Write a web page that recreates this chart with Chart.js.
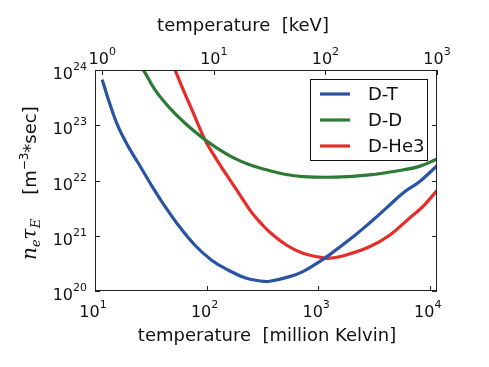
<!DOCTYPE html>
<html>
<head>
<meta charset="utf-8">
<script src="https://cdn.jsdelivr.net/npm/chart.js@4"></script>
<style>
  body { margin: 0; background: #fff; }
  #wrap { width: 489px; height: 367px; }
</style>
</head>
<body>
<div id="wrap"><canvas id="chart" width="489" height="367"></canvas></div>
<script>
// temperature in million Kelvin, n_e*tau_E in m^-3 s
const MK_PER_KEV = 11.604;

const dtTemp = [11.6, 13.2, 16.1, 19.9, 24.4, 33.2, 39.5, 55.6, 78.3, 111, 156, 220, 310, 367, 555, 729, 1028, 1259, 2042, 2884, 4074, 5728, 8072, 11604];
const dtVals = [6.7e23, 2.9e23, 9.5e22, 4.1e22, 2.07e22, 7.3e21, 4.2e21, 1.57e21, 6.8e20, 3.6e20, 2.4e20, 1.74e20, 1.51e20, 1.5e20, 1.82e20, 2.24e20, 3.4e20, 4.5e20, 9.5e20, 1.7e21, 3.16e21, 5.9e21, 9.5e21, 1.85e22];

const ddTemp = [25.1, 27.0, 34.4, 45.3, 63.8, 96.4, 123, 173, 243, 344, 500, 729, 1445, 2884, 5728, 8072, 11604];
const ddVals = [1.2e24, 1.02e24, 4.4e23, 2.2e23, 1.1e23, 5.5e22, 3.9e22, 2.6e22, 1.93e22, 1.56e22, 1.3e22, 1.18e22, 1.15e22, 1.26e22, 1.55e22, 1.8e22, 2.45e22];

const dheTemp = [50.1, 52, 61.7, 78.3, 96.4, 120, 151, 200, 251, 309, 367, 519, 729, 1028, 1222, 1660, 2884, 4365, 6607, 8072, 9268, 11604];
const dheVals = [1.2e24, 1.02e24, 4.4e23, 1.45e23, 5.5e22, 2.6e22, 1.26e22, 5.4e21, 2.7e21, 1.66e21, 1.17e21, 6.8e20, 4.8e20, 4.1e20, 3.9e20, 4.3e20, 6.3e20, 1.02e21, 2.1e21, 2.95e21, 3.9e21, 6.6e21];

const seriesNames = ['D-T', 'D-D', 'D-He3'];
const seriesColors = ['#2b53a3', '#2e7b35', '#e62d2a'];

const bottomTicks = [1e1, 1e2, 1e3, 1e4];
const topTicks = [1e0, 1e1, 1e2, 1e3];
const leftTicks = [1e20, 1e21, 1e22, 1e23, 1e24];

function pts(xs, ys) {
    return xs.map((x, i) => ({ x: x, y: ys[i] }));
}

// "10" with a raised exponent, centered on (cx, cy)
function powerLabel(ctx, exp, cx, cy, alignRight) {
    ctx.font = '16px "DejaVu Sans"';
    const wBase = ctx.measureText('10').width;
    ctx.font = '11px "DejaVu Sans"';
    const wExp = ctx.measureText(String(exp)).width;
    const total = wBase + wExp;
    const left = alignRight ? cx - total : cx - total / 2;
    ctx.textAlign = 'left';
    ctx.textBaseline = 'alphabetic';
    ctx.font = '16px "DejaVu Sans"';
    ctx.fillText('10', left, cy + 8);
    ctx.font = '11px "DejaVu Sans"';
    ctx.fillText(String(exp), left + wBase, cy - 1);
}

const decorations = {
    id: 'decorations',
    afterDraw(chart) {
        const ctx = chart.ctx;
        const a = chart.chartArea;
        const xs = chart.scales.x, x2 = chart.scales.x2, ys = chart.scales.y;
        ctx.save();
        ctx.fillStyle = '#111';
        ctx.strokeStyle = '#222';
        ctx.lineWidth = 1;

        // frame
        ctx.strokeRect(a.left + 0.5, a.top + 0.5, a.right - a.left - 1, a.bottom - a.top - 1);

        // ticks
        ctx.beginPath();
        bottomTicks.forEach(v => {
            const px = Math.round(xs.getPixelForValue(v)) + 0.5;
            ctx.moveTo(px, a.bottom); ctx.lineTo(px, a.bottom - 5);
        });
        topTicks.forEach(v => {
            const px = Math.round(x2.getPixelForValue(v)) + 0.5;
            ctx.moveTo(px, a.top); ctx.lineTo(px, a.top + 5);
        });
        leftTicks.forEach(v => {
            const py = Math.round(ys.getPixelForValue(v)) + 0.5;
            ctx.moveTo(a.left, py); ctx.lineTo(a.left + 5, py);
            ctx.moveTo(a.right, py); ctx.lineTo(a.right - 5, py);
        });
        ctx.stroke();

        // tick labels
        bottomTicks.forEach(v => {
            powerLabel(ctx, Math.round(Math.log10(v)), xs.getPixelForValue(v) - 2, a.bottom + 18);
        });
        topTicks.forEach(v => {
            powerLabel(ctx, Math.round(Math.log10(v)), x2.getPixelForValue(v), a.top - 14);
        });
        leftTicks.forEach(v => {
            powerLabel(ctx, Math.round(Math.log10(v)), a.left - 8, ys.getPixelForValue(v) + 1, true);
        });

        // axis titles
        ctx.font = '18px "DejaVu Sans"';
        ctx.textAlign = 'center';
        ctx.textBaseline = 'alphabetic';
        ctx.fillText('temperature  [million Kelvin]', 267, 341);
        ctx.fillText('temperature  [keV]', 243, 31);

        // y title, rotated
        ctx.translate(36, 260);
        ctx.rotate(-Math.PI / 2);
        ctx.textAlign = 'left';
        let x = 0;
        const put = (t, font, dy) => {
            ctx.font = font;
            ctx.fillText(t, x, dy);
            x += ctx.measureText(t).width;
        };
        put('n', 'italic 20px "DejaVu Serif"', 0);
        put('e', 'italic 13px "DejaVu Serif"', 4);
        put('\u03C4', 'italic 20px "DejaVu Serif"', 0);
        put('E', 'italic 13px "DejaVu Serif"', 4);
        x += 24;
        put('[m', '18px "DejaVu Sans"', 0);
        put('\u22123', '12px "DejaVu Sans"', -8);
        put('*sec]', '18px "DejaVu Sans"', 0);
        ctx.setTransform(1, 0, 0, 1, 0, 0);

        // legend
        ctx.fillStyle = '#fff';
        ctx.fillRect(310, 79, 117, 81);
        ctx.strokeStyle = '#111';
        ctx.strokeRect(310.5, 79.5, 117, 81);
        const rows = [94, 120, 146];
        ctx.font = '18px "DejaVu Sans"';
        ctx.textBaseline = 'middle';
        seriesNames.forEach((name, i) => {
            ctx.strokeStyle = seriesColors[i];
            ctx.lineWidth = 3.2;
            ctx.beginPath();
            ctx.moveTo(320, rows[i]); ctx.lineTo(350, rows[i]);
            ctx.stroke();
            ctx.fillStyle = '#111';
            ctx.fillText(name, 368, rows[i] + 1);
        });
        ctx.restore();
    }
};

const dataSets = [pts(dtTemp, dtVals), pts(ddTemp, ddVals), pts(dheTemp, dheVals)];

new Chart(document.getElementById('chart').getContext('2d'), {
    type: 'line',
    data: {
        datasets: seriesNames.map((name, i) => ({
            label: name,
            data: dataSets[i],
            borderColor: seriesColors[i],
            borderWidth: 3.2,
            pointRadius: 0,
            fill: false,
            tension: 0.4
        }))
    },
    options: {
        responsive: false,
        animation: false,
        events: [],
        layout: { padding: { left: 95, right: 52, top: 70, bottom: 76 } },
        plugins: { legend: { display: false }, tooltip: { enabled: false } },
        scales: {
            x: {
                type: 'logarithmic', position: 'bottom', min: 10, max: 1000 * MK_PER_KEV,
                ticks: { display: false }, grid: { display: false }, border: { display: false },
                afterFit: s => { s.height = 0; }
            },
            x2: {
                type: 'logarithmic', position: 'top', min: 10 / MK_PER_KEV, max: 1000,
                ticks: { display: false }, grid: { display: false }, border: { display: false },
                afterFit: s => { s.height = 0; }
            },
            y: {
                type: 'logarithmic', min: 1e20, max: 1e24,
                ticks: { display: false }, grid: { display: false }, border: { display: false },
                afterFit: s => { s.width = 0; }
            }
        }
    },
    plugins: [decorations]
});
</script>
</body>
</html>
